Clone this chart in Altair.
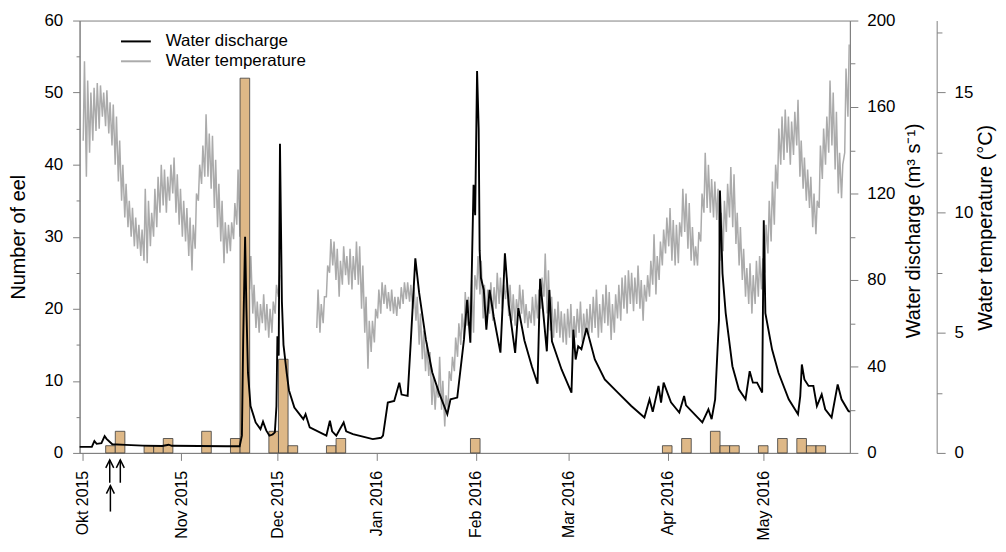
import altair as alt
import pandas as pd

BASE = pd.Timestamp("2015-10-01")

# ---------------- data ----------------
# eel catches: 3-day sampling periods, start given as day offset from 1 Oct 2015
eel_start_day = [7.33, 10.33, 19.33, 22.33, 25.33, 37.33, 46.33, 49.33, 58.33, 61.33, 64.33,
                 76.33, 79.33, 121.33, 181.33, 187.33, 196.33, 199.33, 202.33, 211.33,
                 217.33, 223.33, 226.33, 229.33]
eel_count = [1, 3, 1, 1, 2, 3, 2, 52, 3, 13, 1, 1, 2, 2, 1, 2, 3, 1, 1, 1, 2, 2, 1, 1]
period_days = 3

# water discharge (m3/s) at day offsets from 1 Oct 2015
q_day = [-0.8, 3.0, 3.8, 4.5, 6.0, 7.0, 7.6, 9.4, 13.5, 18.9, 25.0, 27.0, 28.0, 45.0, 49.2,
         49.9, 50.3, 50.9, 51.3, 51.8, 52.6, 54.2, 55.7, 56.5, 57.5, 58.5, 59.5, 60.2, 60.7,
         61.0, 61.4, 61.8, 62.4, 62.9, 63.9, 64.6, 66.3, 69.1, 69.8, 71.1, 76.3, 77.4, 78.1,
         79.4, 81.7, 82.5, 84.6, 90.8, 93.4, 94.0, 95.5, 97.5, 99.1, 99.8, 101.7, 102.7,
         104.1, 105.3, 107.4, 109.4, 111.5, 114.1, 115.1, 117.2, 119.3, 120.3, 121.3, 122.3,
         122.8, 123.4, 123.9, 124.2, 124.6, 125.5, 126.3, 127.3, 128.6, 130.7, 131.7, 132.1,
         133.3, 135.3, 136.3, 138.2, 140.5, 142.3, 143.1, 145.2, 146.0, 146.8, 149.8, 152.9,
         153.5, 154.2, 155.0, 156.0, 157.6, 160.2, 163.3, 167.4, 171.6, 175.7, 177.3, 178.3,
         180.1, 180.9, 181.7, 184.0, 186.6, 188.1, 188.7, 193.8, 195.7, 196.7, 197.8, 198.5,
         199.0, 199.3, 200.1, 201.1, 203.2, 205.2, 207.3, 208.6, 209.6, 210.9, 212.5, 213.0,
         213.5, 215.6, 217.6, 220.8, 223.7, 224.4, 224.9, 225.7, 227.0, 228.5, 229.6, 231.1,
         232.2, 234.2, 236.1, 237.3, 239.4, 239.9]
q_value = [2.8, 2.8, 5.5, 4.2, 4.5, 7.8, 6.5, 4.0, 3.7, 3.4, 3.2, 3.8, 3.3, 3.1, 3.1,
           8.0, 52, 100, 67, 37, 21.7, 14.1, 11.0, 14.5, 10.4, 8.0, 8.5, 9.5, 21.7,
           54, 45, 143, 70, 50, 37, 29, 21, 15.6, 17.9, 11.8, 8.0, 14.9, 10.0,
           8.0, 14.1, 10.0, 8.7, 6.4, 7.0, 8.0, 23.3, 24.0, 32.5, 27.0, 26.4, 52,
           90, 74, 52.4, 37.2, 27.9, 17.9, 24.8, 25.6, 52.4, 70.8, 51, 124,
           110, 176.6, 150, 93.8, 81, 75.4, 57, 75.4, 63, 46.4, 78.5, 92.3,
           68.5, 46.3, 67, 52, 40.1, 32, 80.5, 47, 75.4, 51.6, 38.6, 27.9,
           57, 43.2, 49.3, 48, 57.8, 43.2, 34, 27.9, 21.7, 16.4, 24.8, 19,
           31, 23.3, 32.5, 23.4, 18.7, 26.3, 22, 14.1, 20.2, 15.6, 24.8, 46.3,
           61.6, 121.4, 83, 64.7, 40.1, 29.4, 24.8, 37.8, 32.5, 32.5, 27.9, 107.6,
           64.7, 47.8, 37.1, 24.8, 17.9, 26.3, 40.9, 34, 31, 31, 21.7, 27.1,
           20.2, 16.4, 31.7, 24.8, 19.5, 19.0]

# water temperature (degC): daily minimum / maximum, two recorded stretches
temp_a_first_day = 0    # 1 Oct - 1 Dec 2015
temp_a_min = [13.0, 11.5, 12.5, 13.0, 13.4, 13.5, 14.0, 13.6, 13.3, 12.8, 12.0, 11.3, 10.5, 9.8,
              9.4, 9.0, 8.6, 8.5, 8.2, 8.0, 7.9, 8.6, 9.0, 9.4, 10.0, 10.3, 10.0, 10.5, 10.8,
              10.0, 9.5, 9.0, 8.8, 8.2, 7.6, 8.5, 10.5, 11.2, 11.5, 11.5, 11.0, 10.2, 9.4, 8.8,
              7.9, 8.3, 8.4, 8.9, 9.5, 9.0, 8.0, 7.8, 6.8, 5.8, 5.2, 5.0, 5.4, 5.1, 4.8, 5.0,
              5.8, 6.5]
temp_a_max = [16.3, 15.5, 15.0, 15.2, 15.4, 15.3, 15.0, 15.1, 14.6, 14.5, 14.0, 13.0, 12.0, 11.2,
              10.5, 10.2, 9.8, 9.5, 9.3, 11.0, 10.5, 10.0, 11.0, 11.5, 12.0, 11.8, 11.5, 12.0,
              12.3, 11.6, 11.0, 10.5, 10.2, 9.8, 9.5, 10.8, 12.0, 12.8, 14.1, 13.3, 13.2, 12.2,
              11.2, 10.5, 9.6, 9.5, 9.6, 10.4, 11.8, 11.2, 9.5, 9.0, 8.2, 7.0, 6.3, 6.2, 6.6,
              6.2, 6.0, 6.3, 7.0, 7.4]
temp_b_first_day = 73   # 13 Dec 2015 - 27 May 2016
temp_b_min = [5.2, 5.0, 5.4, 6.5, 7.5, 7.8, 7.2, 6.5, 7.0, 7.4, 7.0, 6.8, 7.2, 7.0, 6.0, 5.0, 3.5,
              4.2, 4.6, 5.6, 5.8, 6.2, 6.0, 5.9, 5.8, 5.7, 6.0, 6.2, 6.4, 6.3, 6.0, 5.5, 4.5,
              3.9, 3.4, 3.2, 2.0, 1.8, 2.3, 1.8, 1.1, 1.8, 3.0, 3.4, 4.0, 4.5, 4.8, 5.3, 5.5,
              5.0, 6.8, 6.6, 5.6, 5.3, 5.8, 5.5, 6.0, 6.2, 6.0, 6.4, 5.7, 5.5, 5.3, 5.8, 5.8,
              5.4, 5.2, 5.4, 5.3, 5.6, 6.0, 6.5, 5.8, 5.1, 4.8, 5.0, 4.8, 4.6, 4.5, 4.8, 4.4,
              4.8, 5.0, 4.6, 4.9, 4.9, 5.0, 5.2, 4.8, 5.0, 5.4, 5.3, 4.7, 5.0, 5.6, 5.5, 6.0,
              5.8, 6.2, 5.9, 6.2, 6.0, 5.5, 6.3, 6.5, 7.0, 6.6, 7.2, 7.8, 8.3, 8.6, 8.0, 7.8,
              7.9, 9.0, 9.2, 8.5, 8.0, 7.8, 7.8, 8.8, 10.0, 10.2, 10.0, 9.8, 9.7, 8.0, 8.4,
              9.2, 9.8, 9.4, 8.7, 7.8, 7.2, 6.5, 6.2, 5.8, 6.2, 6.5, 6.8, 7.5, 8.3, 8.8, 9.5,
              11.0, 12.0, 12.2, 12.5, 12.0, 12.4, 12.8, 11.5, 11.0, 10.5, 10.2, 9.4, 9.1, 10.2,
              11.4, 12.0, 12.5, 12.8, 11.8, 10.8, 10.6, 12.5, 14.0]
temp_b_max = [6.8, 6.2, 6.5, 7.8, 8.9, 8.8, 8.5, 8.0, 8.6, 8.2, 8.5, 8.2, 8.8, 8.6, 7.8, 6.5, 5.5,
              5.5, 6.0, 6.8, 7.1, 7.0, 6.7, 6.8, 6.5, 6.5, 6.9, 7.1, 7.1, 7.0, 6.9, 6.5, 5.8,
              5.1, 4.6, 4.2, 3.2, 2.8, 4.0, 3.0, 2.4, 3.4, 4.0, 4.8, 5.4, 5.8, 6.7, 6.5, 7.2,
              7.4, 8.2, 8.0, 7.0, 6.8, 7.1, 6.9, 7.5, 7.3, 7.0, 7.3, 7.0, 6.6, 6.4, 7.0, 6.8,
              6.2, 5.9, 6.5, 6.6, 6.8, 7.3, 8.3, 7.6, 6.5, 6.0, 6.3, 5.9, 5.8, 6.0, 6.2, 5.7,
              6.0, 6.3, 5.8, 6.0, 6.2, 6.5, 6.8, 6.2, 6.6, 7.0, 6.7, 6.2, 6.6, 7.0, 7.3, 7.4,
              7.6, 7.5, 7.3, 7.8, 7.2, 7.0, 7.4, 8.0, 9.1, 8.2, 8.8, 9.3, 9.8, 10.2, 9.7, 9.5,
              9.6, 11.0, 10.8, 10.4, 9.4, 8.6, 9.2, 10.8, 12.5, 12.0, 11.4, 11.3, 11.0, 10.0,
              10.5, 11.2, 11.9, 11.6, 10.0, 9.4, 8.5, 7.7, 7.9, 7.4, 8.0, 8.2, 8.1, 9.5, 10.5,
              11.3, 12.0, 13.5, 14.0, 14.3, 14.0, 13.8, 14.2, 14.7, 13.0, 12.3, 11.8, 11.5,
              10.8, 10.5, 12.8, 13.5, 14.0, 15.5, 15.0, 14.2, 12.5, 12.0, 16.0, 17.0]

# arrows under the x axis (day offsets from 1 Oct 2015)
arrow_upper_day = [8.6, 11.9]
arrow_lower_day = [8.8]

month_ticks = [(2015, 10), (2015, 11), (2015, 12), (2016, 1), (2016, 2), (2016, 3),
               (2016, 4), (2016, 5)]

# ---------------- tables ----------------
def to_time(days):
    return BASE + pd.to_timedelta(pd.Series(days, dtype=float), unit="D")

eel_df = pd.DataFrame({"start": to_time(eel_start_day),
                       "end": to_time([d + period_days for d in eel_start_day]),
                       "count": eel_count})
q_df = pd.DataFrame({"t": to_time(q_day), "q": q_value})

rows = []
for seg, first, mins, maxs in [("a", temp_a_first_day, temp_a_min, temp_a_max),
                               ("b", temp_b_first_day, temp_b_min, temp_b_max)]:
    for i, (lo, hi) in enumerate(zip(mins, maxs)):
        rows.append((seg, first + i + 0.3, lo))
        rows.append((seg, first + i + 0.7, hi))
temp_df = pd.DataFrame(rows, columns=["seg", "day", "temp"])
temp_df["t"] = to_time(temp_df["day"].tolist())

arrow_up_df = pd.DataFrame({"t": to_time(arrow_upper_day)})
arrow_lo_df = pd.DataFrame({"t": to_time(arrow_lower_day)})
dummy = pd.DataFrame({"a": [0]})

# ---------------- styling ----------------
FONT = "Liberation Sans"
AX = "#808080"
W, H = 775, 435

x_scale = alt.Scale(domain=[alt.DateTime(year=2015, month=9, date=30, hours=4),
                            alt.DateTime(year=2016, month=5, date=27, hours=22)], nice=False)
x_axis = alt.Axis(values=[alt.DateTime(year=y, month=m, date=1) for y, m in month_ticks],
                  labelExpr="replace(timeFormat(datum.value, '%b %Y'), 'Oct', 'Okt')",
                  labelAngle=270, labelPadding=10, tickSize=7.5, title=None,
                  labelFlush=False, labelOverlap=False, labelFontSize=16)


def xenc(field):
    return alt.X(field, type="temporal", scale=x_scale, axis=x_axis)


def minor_layer(vals, domain, tick, orient, offset=0):
    df = pd.DataFrame({"v": domain})
    return alt.Chart(df).mark_point(opacity=0).encode(
        y=alt.Y("v:Q", scale=alt.Scale(domain=domain, nice=False, zero=False),
                axis=alt.Axis(orient=orient, values=vals, labels=False, tickSize=tick,
                              domain=False, title=None, offset=offset, grid=False)))


temp_line = alt.Chart(temp_df).mark_line(color="#ababab", strokeWidth=1.5).encode(
    x=xenc("t"),
    y=alt.Y("temp:Q", scale=alt.Scale(domain=[0, 18], nice=False),
            axis=alt.Axis(orient="right", offset=87.3, values=[0, 5, 10, 15], tickSize=8.5,
                          labelPadding=9, title="Water temperature (°C)", titleAngle=270,
                          titleX=55.5, titleY=208, titleAlign="center",
                          titleBaseline="alphabetic", grid=False)),
    detail="seg:N")

bars = alt.Chart(eel_df).mark_rect(fill="#DEB887", stroke="#3a3a3a", strokeWidth=0.8).encode(
    x=xenc("start"), x2="end:T",
    y=alt.Y("count:Q", scale=alt.Scale(domain=[0, 60], nice=False),
            axis=alt.Axis(orient="left", values=[0, 10, 20, 30, 40, 50, 60], tickSize=7,
                          labelPadding=10, title="Number of eel", titleAngle=270,
                          titleX=-55, titleY=217.5, titleAlign="center",
                          titleBaseline="alphabetic", grid=False)),
    y2=alt.datum(0))

q_line = alt.Chart(q_df).mark_line(color="black", strokeWidth=1.9).encode(
    x=xenc("t"),
    y=alt.Y("q:Q", scale=alt.Scale(domain=[0, 200], nice=False),
            axis=alt.Axis(orient="right", values=[0, 40, 80, 120, 160, 200], tickSize=8,
                          labelPadding=9, title="Water discharge (m³ s⁻¹)", titleAngle=270,
                          titleX=70, titleY=211, titleAlign="center",
                          titleBaseline="alphabetic", grid=False)))

minor_eel = minor_layer([5, 15, 25, 35, 45, 55], [0, 60], 3.5, "left")
minor_q = minor_layer([20, 60, 100, 140, 180], [0, 200], 5, "right")
minor_t = minor_layer([2.5, 7.5, 12.5, 17.5], [0, 18], 5.3, "right", offset=87.3)

leg_q = alt.Chart(dummy).mark_rule(color="black", strokeWidth=2).encode(
    x=alt.value(41.7), x2=alt.value(71.7), y=alt.value(21))
leg_t = alt.Chart(dummy).mark_rule(color="#ababab", strokeWidth=2).encode(
    x=alt.value(41.7), x2=alt.value(71.7), y=alt.value(41))
leg_q_txt = alt.Chart(dummy).mark_text(align="left", baseline="middle", fontSize=17,
                                       font=FONT, color="black").encode(
    x=alt.value(86.7), y=alt.value(21), text=alt.value("Water discharge"))
leg_t_txt = alt.Chart(dummy).mark_text(align="left", baseline="middle", fontSize=17,
                                       font=FONT, color="black").encode(
    x=alt.value(86.7), y=alt.value(41), text=alt.value("Water temperature"))

ARROW = "M-1,2L0,0L1,2"
arr_up_shaft = alt.Chart(arrow_up_df).mark_rule(color="black", strokeWidth=1.5).encode(
    x=xenc("t"), y=alt.value(442), y2=alt.value(465))
arr_up_head = alt.Chart(arrow_up_df).mark_point(shape=ARROW, size=64, filled=False,
                                                color="black", strokeWidth=1.5,
                                                opacity=1).encode(
    x=xenc("t"), y=alt.value(442))
arr_lo_shaft = alt.Chart(arrow_lo_df).mark_rule(color="black", strokeWidth=1.5).encode(
    x=xenc("t"), y=alt.value(468), y2=alt.value(494))
arr_lo_head = alt.Chart(arrow_lo_df).mark_point(shape=ARROW, size=64, filled=False,
                                                color="black", strokeWidth=1.5,
                                                opacity=1).encode(
    x=xenc("t"), y=alt.value(468))

chart = alt.layer(
    temp_line, bars, q_line, minor_eel, minor_q, minor_t,
    leg_q, leg_t, leg_q_txt, leg_t_txt,
    arr_up_shaft, arr_up_head, arr_lo_shaft, arr_lo_head,
).resolve_scale(y="independent").resolve_axis(y="independent").properties(
    width=W, height=H,
    autosize=alt.AutoSizeParams(type="none"),
    padding={"left": 72, "top": 11, "right": 149, "bottom": 88},
).configure_view(stroke=AX, strokeWidth=1).configure_axis(
    labelFont=FONT, titleFont=FONT, labelFontSize=17, titleFontSize=20,
    titleFontWeight="normal", labelColor="black", titleColor="black",
    domainColor=AX, tickColor=AX, domainWidth=1, tickWidth=1, grid=False,
)

chart.save("out.html", embed_options={"renderer": "svg", "actions": False})
